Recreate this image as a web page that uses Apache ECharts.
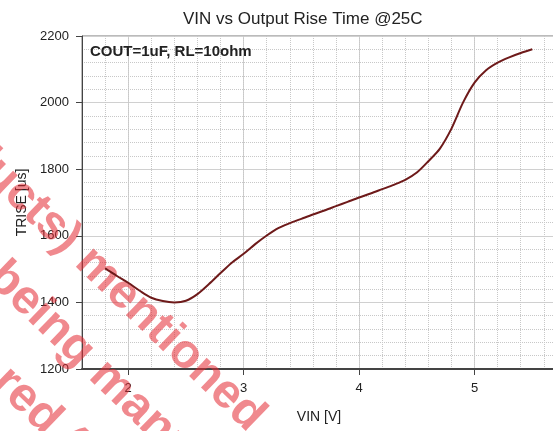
<!DOCTYPE html>
<html>
<head>
<meta charset="utf-8">
<script src="https://cdn.jsdelivr.net/npm/echarts@6/dist/echarts.min.js"></script>
<style>
  html, body { margin: 0; padding: 0; background: #fff; }
  #chart { width: 553px; height: 431px; }
</style>
</head>
<body>
<div id="chart"></div>
<script>
// VIN [V] and rise time [us]
var vin = [1.8, 1.9, 2.0, 2.1, 2.2, 2.3, 2.4, 2.5, 2.6, 2.7, 2.8, 2.9, 3.0, 3.1, 3.2, 3.3, 3.4, 3.5,
           3.6, 3.7, 3.8, 3.9, 4.0, 4.1, 4.2, 4.3, 4.4, 4.5, 4.6, 4.7, 4.8, 4.9, 5.0, 5.1, 5.2, 5.3, 5.4, 5.5];
var trise = [1502, 1480, 1459, 1435, 1414, 1404, 1400, 1405, 1425, 1455, 1488, 1520, 1546, 1575, 1601, 1623, 1638, 1651,
             1664, 1676, 1689, 1702, 1715, 1727, 1740, 1753, 1768, 1790, 1824, 1862, 1922, 2000, 2060, 2097, 2120, 2136, 2149, 2160];
var xTicks = [2, 3, 4, 5];
var watermark = ['products) mentioned . .', 'being manufactured', 'red ('];

var font = 'Liberation Sans, Arial, sans-serif';
var points = [];
for (var i = 0; i < vin.length; i++) {
    points.push([vin[i], trise[i]]);
}

var myChart = echarts.init(document.getElementById('chart'));

var wmStarts = [[-86, 92], [-5, 270], [0, 375]];
var graphics = [];
for (var n = 0; n < watermark.length; n++) {
    graphics.push({
        type: 'text',
        x: wmStarts[n][0],
        y: wmStarts[n][1],
        rotation: -44 * Math.PI / 180,
        z: 1,
        silent: true,
        style: {
            text: watermark[n],
            fill: 'rgba(228,40,50,0.55)',
            font: 'bold 48px ' + font,
            align: 'left',
            verticalAlign: 'middle'
        }
    });
}
graphics.push({
    type: 'text',
    x: 90,
    y: 52,
    z: 10,
    style: {
        text: 'COUT=1uF, RL=10ohm',
        fill: '#222',
        font: 'bold 15px ' + font,
        align: 'left',
        verticalAlign: 'middle'
    }
});

var option = {
    animation: false,
    title: {
        text: 'VIN vs Output Rise Time @25C',
        left: 178,
        top: 6,
        textStyle: { fontFamily: font, fontSize: 17, fontWeight: 'normal', color: '#222' }
    },
    grid: {
        left: 82, top: 36, width: 508, height: 333,
        outerBoundsMode: 'none',
        containLabel: false,
        show: true, borderColor: '#777', borderWidth: 1
    },
    xAxis: [
        {
            type: 'value',
            min: 1.6, max: 6,
            name: 'VIN [V]',
            nameLocation: 'middle',
            nameGap: 41,
            nameTextStyle: { fontFamily: font, fontSize: 14, color: '#222', padding: [0, 34, 0, 0] },
            axisLine: { lineStyle: { color: '#444', width: 2 } },
            axisTick: { show: true, length: 6, customValues: xTicks, lineStyle: { color: '#444' } },
            axisLabel: { customValues: xTicks, margin: 13, fontFamily: font, fontSize: 13, color: '#222',
                formatter: function (v) { return String(v); } },
            splitLine: { show: true, lineStyle: { color: '#d0d0d0', width: 1 } }
        },
        {
            type: 'value',
            min: 1.6, max: 6, interval: 0.2,
            position: 'top',
            axisLine: { show: false },
            axisTick: { show: false },
            axisLabel: { show: false },
            splitLine: { show: true, lineStyle: { color: '#c8c8c8', type: 'dotted', width: 1 } }
        }
    ],
    yAxis: {
        type: 'value',
        min: 1200, max: 2200, interval: 200,
        name: 'TRISE [us]',
        nameLocation: 'middle',
        nameGap: 52,
        nameTextStyle: { fontFamily: font, fontSize: 14, color: '#222' },
        axisLine: { show: true, lineStyle: { color: '#444', width: 1 } },
        axisTick: { show: true, length: 6, lineStyle: { color: '#444' } },
        axisLabel: { margin: 13, fontFamily: font, fontSize: 13, color: '#222',
            formatter: function (v) { return String(v); } },
        splitLine: { show: true, lineStyle: { color: '#d0d0d0', width: 1 } },
        minorTick: { show: false, splitNumber: 5 },
        minorSplitLine: { show: true, lineStyle: { color: '#c8c8c8', type: 'dotted', width: 1 } }
    },
    graphic: graphics,
    series: [{
        type: 'line',
        data: points,
        smooth: 0.3,
        showSymbol: false,
        z: 3,
        lineStyle: { color: '#6e1a1a', width: 2 }
    }]
};

myChart.setOption(option);
</script>
</body>
</html>
